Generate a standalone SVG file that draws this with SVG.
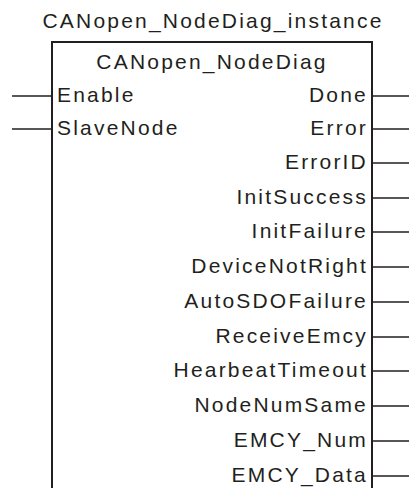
<svg xmlns="http://www.w3.org/2000/svg" width="409" height="488" viewBox="0 0 409 488">
<style>
text{font-family:"Liberation Sans",Arial,sans-serif;font-size:21px;letter-spacing:2.2px;fill:#231f20}
.r{text-anchor:end}
.c{text-anchor:middle}
.w{stroke:#231f20;stroke-width:1.6;fill:none}
.b{stroke:#231f20;stroke-width:2;fill:none}
</style>
<rect width="409" height="488" fill="#fff"/>
<g id="title"><text class="c" x="213" y="28">CANopen_NodeDiag_instance</text></g>
<g id="block">
<path class="b" d="M52,492 V42 H372 V492"/>
<text class="c" x="212" y="69">CANopen_NodeDiag</text>
<text x="57" y="102">Enable</text>
<text x="57" y="135">SlaveNode</text>
<text class="r" x="368" y="102">Done</text>
<text class="r" x="368" y="135">Error</text>
<text class="r" x="368" y="169">ErrorID</text>
<text class="r" x="368" y="204">InitSuccess</text>
<text class="r" x="368" y="238">InitFailure</text>
<text class="r" x="368" y="273">DeviceNotRight</text>
<text class="r" x="368" y="308">AutoSDOFailure</text>
<text class="r" x="368" y="343">ReceiveEmcy</text>
<text class="r" x="368" y="377">HearbeatTimeout</text>
<text class="r" x="368" y="412">NodeNumSame</text>
<text class="r" x="368" y="447">EMCY_Num</text>
<text class="r" x="368" y="482">EMCY_Data</text>
</g>
<g id="connectors" class="w">
<path d="M12,96 H52 M12,129 H52"/>
<path d="M372,96 H409 M372,129 H409 M372,163 H409 M372,198 H409 M372,232 H409 M372,267 H409 M372,302 H409 M372,337 H409 M372,371 H409 M372,406 H409 M372,441 H409 M372,476 H409"/>
</g>
</svg>
